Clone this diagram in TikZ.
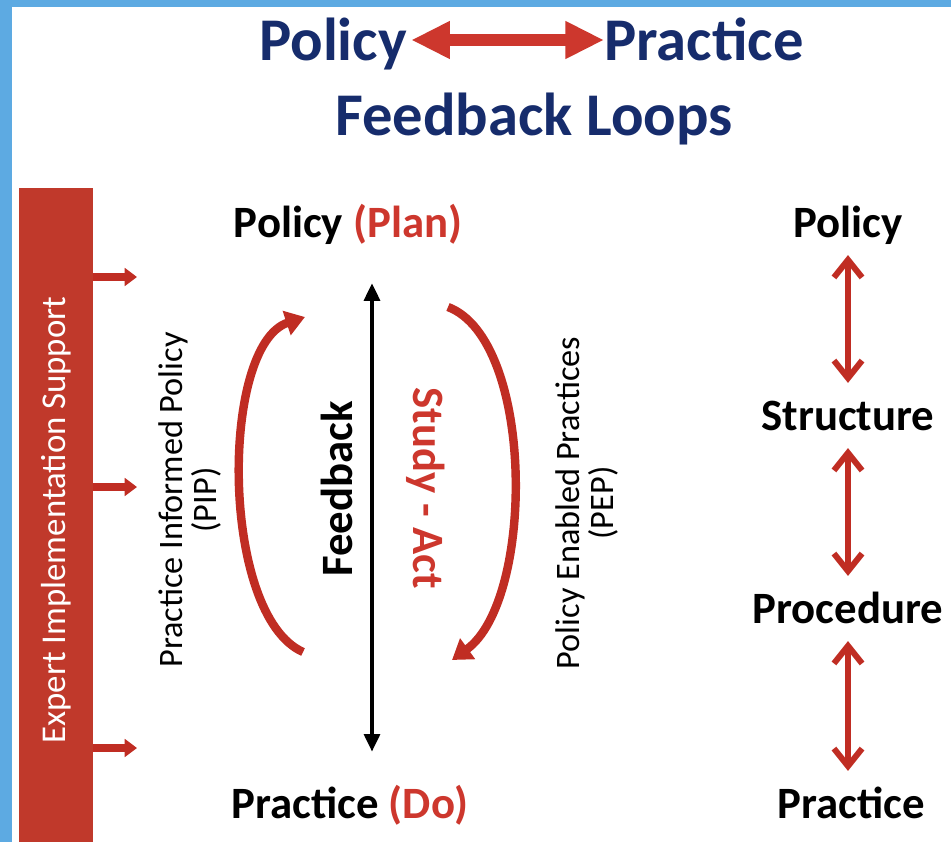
\documentclass[tikz,border=0pt]{standalone}
\usepackage{fontspec}
\setmainfont{Carlito}
\usetikzlibrary{arrows.meta,calc}

\definecolor{frameblue}{RGB}{93,170,226}
\definecolor{titleblue}{RGB}{22,44,108}
\definecolor{planred}{RGB}{205,55,45}
\definecolor{barred}{RGB}{192,57,43}
\definecolor{arcred}{RGB}{192,45,35}

\begin{document}
\begin{tikzpicture}[x=0.02cm, y=0.02cm,
    headtext/.style={font=\fontsize{34.5}{40}\selectfont\bfseries, text=titleblue, inner sep=0pt},
    mainword/.style={font=\fontsize{25.5}{30}\selectfont\bfseries, inner sep=0pt, text height=17.6pt, text depth=5.1pt},
    sidenote/.style={font=\fontsize{19.5}{19.5}\selectfont, align=center, rotate=90, inner sep=0pt},
    fatarrow/.style={draw=planred, line width=7pt, {Triangle[length=22pt,width=20pt]}-{Triangle[length=22pt,width=20pt]}},
    tickarrow/.style={draw=arcred, line width=4pt, -{Triangle[length=7pt,width=10pt]}},
    looparrow/.style={draw=arcred, line width=4.8pt, -{Triangle[length=11pt,width=14pt]}},
    fbarrow/.style={draw=black, line width=2.1pt, {Triangle[length=10pt,width=9pt]}-{Triangle[length=10pt,width=9pt]}},
    linkarrow/.style={draw=arcred, line width=3.4pt, {Straight Barb[length=10pt,width=16pt]}-{Straight Barb[length=10pt,width=16pt]}, shorten <=5pt, shorten >=9pt}]

    \useasboundingbox (0,0) rectangle (951,-842);
    \fill[frameblue] (0,0) rectangle (951,-842);
    \fill[white] (12,-7) rectangle (951,-842);

    % title
    \node[headtext, anchor=base] (tpol) at (333,-60) {Policy};
    \node[headtext, anchor=base] (tprac) at (704,-60) {Practice};
    \node[headtext, anchor=base] (tloops) at (534,-135) {Feedback Loops};
    \coordinate (tmid) at (510,-40);
    \draw[fatarrow] ($(tpol.east |- tmid)+(4,0)$) -- (tprac.west |- tmid);

    % support bar
    \node[fill=barred, minimum width=1.48cm, minimum height=13.1cm, inner sep=0pt] (eis) at (56,-515) {};
    \node[rotate=90, text=white, font=\fontsize{19.8}{20}\selectfont, inner sep=0pt] (eislab) at (56,-520) {Expert Implementation Support};
    \coordinate (a1) at (137,-277);
    \coordinate (a2) at (137,-487);
    \coordinate (a3) at (137,-748);
    \foreach \a in {a1,a2,a3}
        \draw[tickarrow] (eis.east |- \a) -- (\a);

    % loop
    \node[mainword, anchor=base] (pplan) at (348,-237) {Policy \textcolor{planred}{(Plan)}};
    \node[mainword, anchor=base] (pdo) at (350,-818) {Practice \textcolor{planred}{(Do)}};
    \coordinate (fbx) at (372,0);
    \draw[fbarrow, shorten <=21pt, shorten >=20pt] (pplan.south -| fbx) -- (pdo.north -| fbx);
    \node[mainword, rotate=90, text depth=0pt] (fb) at (337,-489) {Feedback};
    \node[mainword, rotate=-90, text=planred] (sa) at (424,-488) {Study - Act};

    \draw[looparrow] (303,-652) .. controls (220,-615) and (220,-345) .. (305,-317);
    \draw[looparrow] (448,-307) .. controls (535,-340) and (535,-600) .. (452,-660);

    \node[sidenote] (pip) at (190,-500) {Practice Informed Policy\\(PIP)};
    \node[sidenote] (pep) at (587,-503) {Policy Enabled Practices\\(PEP)};

    % levels
    \node[mainword, anchor=base] (rpol) at (848,-237) {Policy};
    \node[mainword, anchor=base] (rstr) at (848,-430) {Structure};
    \node[mainword, anchor=base] (rproc) at (848,-623) {Procedure};
    \node[mainword, anchor=base] (rprac) at (851,-818) {Practice};
    \draw[linkarrow] (rpol) -- (rstr);
    \draw[linkarrow] (rstr) -- (rproc);
    \draw[linkarrow] (rproc.south) -- (rprac.north -| rproc.south);
\end{tikzpicture}
\end{document}
